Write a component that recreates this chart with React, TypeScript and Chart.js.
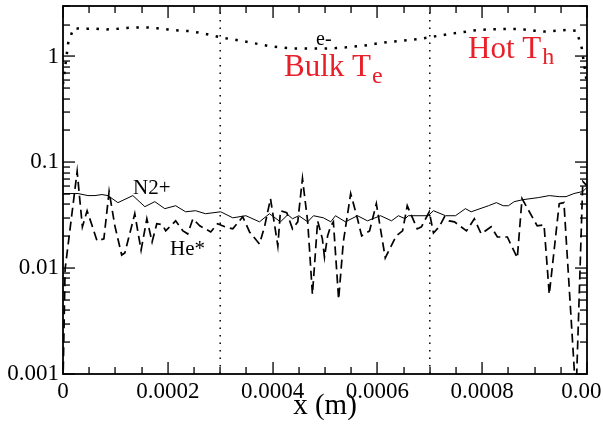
import React, { useEffect, useRef } from "react";
import { Chart, registerables } from "chart.js";

Chart.register(...registerables);

const eX = [0, 0.00001, 0.00002, 0.00004, 0.00006, 0.00008, 0.0001, 0.00012, 0.00014, 0.00016, 0.00018,
  0.0002, 0.00022, 0.00024, 0.00026, 0.00028, 0.0003, 0.00032, 0.00034, 0.00036, 0.00038,
  0.0004, 0.00042, 0.00044, 0.00046, 0.00048, 0.0005, 0.00052, 0.00054, 0.00056, 0.00058,
  0.0006, 0.00062, 0.00064, 0.00066, 0.00068, 0.0007, 0.00072, 0.00074, 0.00076, 0.00078,
  0.0008, 0.00082, 0.00084, 0.00086, 0.00088, 0.0009, 0.00092, 0.00094, 0.00096, 0.00098,
  0.00099, 0.001];
const eY = [0.55, 1.35, 1.85, 1.82, 1.84, 1.80, 1.82, 1.86, 1.88, 1.88, 1.85,
  1.80, 1.76, 1.74, 1.68, 1.60, 1.52, 1.46, 1.41, 1.35, 1.29,
  1.24, 1.21, 1.19, 1.19, 1.19, 1.19, 1.20, 1.22, 1.25, 1.28,
  1.33, 1.37, 1.40, 1.43, 1.46, 1.52, 1.58, 1.64, 1.69, 1.75,
  1.79, 1.81, 1.82, 1.82, 1.80, 1.75, 1.72, 1.75, 1.78, 1.75,
  1.2, 0.55];

const n2X = [0, 0.0000286, 0.0000476, 0.000061, 0.0000743, 0.0000857, 0.0001048, 0.0001333, 0.0001562, 0.0001752,
  0.0001943, 0.000215, 0.000234, 0.000253, 0.000272, 0.000301, 0.000324, 0.000349, 0.000375, 0.000394,
  0.000415, 0.000429, 0.000438, 0.00045, 0.000467, 0.000478, 0.000497, 0.000511, 0.00052, 0.000539,
  0.000562, 0.000581, 0.000606, 0.000627, 0.00064, 0.000653, 0.000659, 0.000697, 0.000707, 0.00073,
  0.000749, 0.000768, 0.000779, 0.000812, 0.000827, 0.00084, 0.00085, 0.000861, 0.000878, 0.000907,
  0.000928, 0.000947, 0.00096, 0.000975, 0.000992, 0.001];
const n2Y = [0.0507, 0.0507, 0.0485, 0.0485, 0.0496, 0.0485, 0.0416, 0.0485, 0.0381, 0.0425,
  0.0365, 0.0389, 0.0341, 0.0349, 0.0327, 0.0341, 0.0299, 0.0313, 0.0274, 0.0327,
  0.0274, 0.032, 0.0293, 0.0313, 0.0274, 0.0313, 0.0299, 0.0274, 0.0313, 0.0274,
  0.0313, 0.028, 0.0313, 0.028, 0.0313, 0.0293, 0.0313, 0.0313, 0.0349, 0.0313,
  0.0313, 0.0365, 0.0341, 0.0389, 0.0416, 0.0389, 0.0389, 0.0425, 0.0444, 0.0464,
  0.0485, 0.0474, 0.0474, 0.0507, 0.053, 0.058];

const heX = [0, 0.000004, 0.000027, 0.000037, 0.000046, 0.000055, 0.000065, 0.000078, 0.000088, 0.000099,
  0.000112, 0.000118, 0.000137, 0.000149, 0.00016, 0.00017, 0.000179, 0.00019, 0.000196, 0.000215,
  0.000229, 0.000238, 0.000248, 0.000261, 0.000272, 0.000282, 0.000295, 0.000309, 0.000324, 0.000343,
  0.000356, 0.000375, 0.000385, 0.000396, 0.00041, 0.000415, 0.000427, 0.000438, 0.000448, 0.000457,
  0.000467, 0.000476, 0.000486, 0.000495, 0.000499, 0.000505, 0.000511, 0.000516, 0.000526, 0.000535,
  0.000549, 0.000562, 0.00057, 0.000585, 0.000598, 0.000615, 0.000636, 0.000648, 0.000657, 0.000676,
  0.000684, 0.000699, 0.000707, 0.000718, 0.000728, 0.000737, 0.000747, 0.00077, 0.000785, 0.000798,
  0.000817, 0.000829, 0.000848, 0.000867, 0.000876, 0.000905, 0.000918, 0.000928, 0.000947, 0.000956,
  0.000979, 0.000992, 0.001];
const heY = [0.0008, 0.0098, 0.082, 0.0246, 0.0349, 0.0257, 0.0181, 0.0189, 0.053, 0.0251,
  0.0133, 0.0139, 0.0327, 0.0148, 0.0293, 0.0177, 0.0263, 0.0257, 0.0225, 0.028,
  0.0225, 0.0211, 0.0293, 0.0251, 0.0235, 0.022, 0.0263, 0.0246, 0.0235, 0.0306,
  0.022, 0.0169, 0.0251, 0.0454, 0.0162, 0.0349, 0.0334, 0.0235, 0.0274, 0.0704,
  0.0274, 0.00565, 0.028, 0.0189, 0.0127, 0.0202, 0.0251, 0.0274, 0.00507, 0.0177,
  0.0507, 0.0293, 0.0202, 0.0225, 0.0407, 0.0125, 0.0202, 0.0225, 0.0389, 0.0235,
  0.0246, 0.0341, 0.0215, 0.0246, 0.0306, 0.028, 0.0274, 0.0225, 0.0293, 0.0211,
  0.0246, 0.0197, 0.0197, 0.0125, 0.0454, 0.0251, 0.0257, 0.00565, 0.0407, 0.0416,
  0.0006, 0.066, 0.06];

const boundaries = [0.0003, 0.0007];

const X_MIN = 0;
const X_MAX = 0.001;
const Y_MIN = 0.001;
const Y_MAX = 3;
const X_STEP = 0.0002;
const X_MINOR = 0.00005;

const FONT = "'Liberation Serif', 'Times New Roman', serif";
const RED = "#e8202a";

const pts = (xs: number[], ys: number[]) => xs.map((x, i) => ({ x, y: ys[i] }));

const framePlugin = {
  id: "frameTicks",
  afterDraw(chart: any) {
    const ctx: CanvasRenderingContext2D = chart.ctx;
    const a = chart.chartArea;
    const xs = chart.scales.x;
    const ys = chart.scales.y;
    ctx.save();
    ctx.setLineDash([]);
    ctx.lineCap = "butt";
    ctx.fillStyle = "#000";
    // ticks drawn as small filled rectangles, pointing inward
    const per = Math.round(X_STEP / X_MINOR);
    const nx = Math.round((X_MAX - X_MIN) / X_MINOR);
    for (let i = 0; i <= nx; i++) {
      const v = X_MIN + i * X_MINOR;
      const len = i % per === 0 ? 12 : 7;
      const px = Math.round(xs.getPixelForValue(v));
      ctx.fillRect(px - 0.6, a.bottom - len, 1.3, len);
      ctx.fillRect(px - 0.6, a.top, 1.3, len);
    }
    for (let d = -3; d <= 0; d++) {
      for (let m = 1; m <= 9; m++) {
        const v = m * Math.pow(10, d);
        if (v < Y_MIN || v > Y_MAX) continue;
        const len = m === 1 ? 12 : 7;
        const py = Math.round(ys.getPixelForValue(v));
        ctx.fillRect(a.left, py - 0.6, len, 1.3);
        ctx.fillRect(a.right - len, py - 0.6, len, 1.3);
      }
    }
    ctx.strokeStyle = "#000";
    ctx.lineWidth = 1.8;
    ctx.strokeRect(a.left, a.top, a.right - a.left, a.bottom - a.top);

    ctx.textBaseline = "alphabetic";
    ctx.textAlign = "left";
    ctx.fillStyle = "#000";
    ctx.font = `20px ${FONT}`;
    ctx.fillText("e-", 316, 45);
    ctx.font = `21px ${FONT}`;
    ctx.fillText("N2+", 133, 194);
    ctx.fillText("He*", 170, 255);

    ctx.fillStyle = RED;
    ctx.font = `31px ${FONT}`;
    ctx.fillText("Bulk T", 284, 76);
    let w = ctx.measureText("Bulk T").width;
    ctx.font = `24px ${FONT}`;
    ctx.fillText("e", 284 + w + 1, 83);
    ctx.font = `31px ${FONT}`;
    ctx.fillText("Hot T", 468, 58);
    w = ctx.measureText("Hot T").width;
    ctx.font = `24px ${FONT}`;
    ctx.fillText("h", 468 + w + 1, 64);
    ctx.restore();
  },
};

export default function App() {
  const ref = useRef<HTMLCanvasElement | null>(null);

  useEffect(() => {
    if (!ref.current) return;
    const boundarySets = boundaries.map((b) => ({
      data: [{ x: b, y: Y_MIN }, { x: b, y: Y_MAX }],
      borderColor: "#000",
      borderWidth: 1.5,
      borderDash: [1.5, 6],
      pointRadius: 0,
      fill: false,
    }));
    const chart = new Chart(ref.current, {
      type: "line",
      data: {
        datasets: [
          ...boundarySets,
          { label: "e-", data: pts(eX, eY), borderColor: "#000", borderWidth: 2.5, borderDash: [2.5, 7.5], pointRadius: 0, tension: 0, fill: false },
          { label: "N2+", data: pts(n2X, n2Y), borderColor: "#000", borderWidth: 1, pointRadius: 0, tension: 0, fill: false },
          { label: "He*", data: pts(heX, heY), borderColor: "#000", borderWidth: 1.7, borderDash: [9, 5], pointRadius: 0, tension: 0, fill: false },
        ] as any,
      },
      options: {
        animation: false,
        responsive: false,
        events: [],
        layout: { padding: { top: 6, right: 16, left: 0, bottom: 0 } },
        plugins: { legend: { display: false }, tooltip: { enabled: false } },
        scales: {
          x: {
            type: "linear",
            min: X_MIN,
            max: X_MAX,
            grid: { display: false, drawTicks: false },
            border: { display: false },
            ticks: {
              stepSize: X_STEP,
              color: "#000",
              padding: 4,
              maxRotation: 0,
              autoSkip: false,
              font: { family: FONT, size: 23 },
              callback: (v: any) => String(Number(Number(v).toFixed(6))),
            },
            title: { display: true, text: "x (m)", color: "#000", font: { family: FONT, size: 29 }, padding: { top: 0, bottom: 0 } },
            afterFit: (s: any) => { s.height = 50; s.paddingLeft = 0; s.paddingRight = 0; },
          },
          y: {
            type: "logarithmic",
            min: Y_MIN,
            max: Y_MAX,
            grid: { display: false, drawTicks: false },
            border: { display: false },
            ticks: {
              color: "#000",
              padding: 4,
              autoSkip: false,
              font: { family: FONT, size: 23 },
              callback: (v: any) => {
                const l = Math.log10(Number(v));
                return Math.abs(l - Math.round(l)) < 1e-9 ? String(Number(Number(v).toFixed(6))) : "";
              },
            },
            afterFit: (s: any) => { s.width = 63; s.paddingTop = 0; s.paddingBottom = 0; },
          },
        },
      },
      plugins: [framePlugin],
    });
    return () => chart.destroy();
  }, []);

  return (
    <div style={{ position: "absolute", left: 0, top: 0, width: 603, height: 424, background: "#fff" }}>
      <canvas ref={ref} width={603} height={424} style={{ display: "block" }} />
    </div>
  );
}
